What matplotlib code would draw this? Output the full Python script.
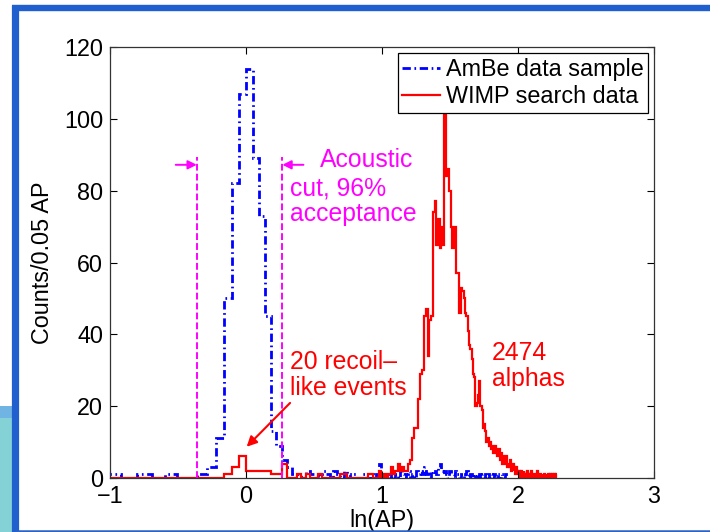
import numpy as np
import matplotlib
matplotlib.use("Agg")
import matplotlib.pyplot as plt
from matplotlib.lines import Line2D
from matplotlib.patches import Rectangle

plt.rcParams['font.family'] = ['Liberation Sans', 'DejaVu Sans']

# counts per 0.05 AP bin, first bin starts at AP = 0.35
ap_start = 0.35
ap_step = 0.05

ambe_counts = [
    1, 0, 1, 0, 1, 0, 0, 1, 3, 11,                                   # 0.35 - 0.80
    50, 82, 107, 114, 89, 73, 45, 13, 9, 5, 3, 1,                    # 0.85 - 1.40
    1, 0, 2, 1, 0, 1, 2, 1, 0, 2, 1, 0, 2, 1, 0, 1, 0, 0, 1, 0,      # 1.45 - 2.40
    0, 1, 0, 1, 4, 1, 0, 1, 0, 2, 0, 1, 0, 2, 1, 0, 1, 2, 0, 1,      # 2.45 - 3.40
    0, 2, 1, 2, 1, 3, 1, 2, 0, 2, 1, 2, 1, 3, 4, 2, 1, 2, 1, 0,      # 3.45 - 4.40
    2, 1, 1, 0, 2, 1, 1, 0, 1, 1, 0, 1, 2, 1, 0, 1, 0, 1, 1, 0,      # 4.45 - 5.40
    1, 0, 1, 0, 1, 0, 0, 1, 0, 1, 0, 0, 1, 0, 0, 1, 0, 0, 1, 0,      # 5.45 - 6.40
    0, 1, 0, 0, 0, 1, 0,                                             # 6.45 - 6.75
]

wimp_counts = [
    0, 0, 0, 0, 0, 0, 0, 0, 0, 0,                                    # 0.35 - 0.80
    1, 3, 6, 2, 2, 2, 2, 1, 1, 4,                                    # 0.85 - 1.30
    0, 0, 1, 0, 1, 0, 0, 1, 0, 0, 0, 0, 0, 1, 1, 0,                  # 1.35 - 2.10
    0, 0, 0, 0, 0, 0, 1, 1, 0, 0, 2, 0, 1, 0, 1,                     # 2.15 - 2.85
    3, 1, 2, 4, 2, 3, 2, 2, 4,                                       # 2.90 - 3.30
    5, 11, 14, 14, 22, 29, 30, 45, 47, 34, 44, 45,                   # 3.35 - 3.90
    74, 77, 65, 72, 64, 70, 65, 102, 84, 86, 80,                     # 3.95 - 4.45
    70, 64, 70, 70, 57, 57, 46, 53, 52, 50,                          # 4.50 - 4.95
    46, 45, 41, 37, 36, 33, 29, 28, 20, 21,                          # 5.00 - 5.45
    23, 27, 20, 19, 14, 15, 13, 10, 11, 9,                           # 5.50 - 5.95
    10, 8, 9, 7, 8, 9, 7, 6, 8, 5, 7, 4, 6, 5, 4, 6, 3, 4, 3, 5,     # 6.00 - 6.95
    2, 3, 4, 2, 3, 1, 3, 2, 1, 2, 0, 2, 1, 0, 2, 1, 0, 1, 2, 0,      # 7.00 - 7.95
    1, 0, 1, 2, 0, 1, 0, 1, 0, 1, 2, 0, 1, 0, 1, 0, 0, 1, 0, 1,      # 8.00 - 8.95
    0, 1, 0, 0, 1, 0, 0, 1, 0, 0, 1, 0, 0, 1, 0, 0, 1,               # 9.00 - 9.80
]

cut_ap = [0.70, 1.30]
cut_top = 89.5
n_recoil = 20
n_alpha = 2474


def ln_edges(counts):
    return np.log(ap_start + ap_step * np.arange(len(counts) + 1))


fig = plt.figure(figsize=(7.1, 5.32), dpi=100)
fig.patch.set_facecolor('white')

# slide frame around the plot
fig.add_artist(Rectangle((0, 0), 12 / 710, 120 / 532, transform=fig.transFigure,
                         facecolor='#84d2d6', edgecolor='none'))
fig.add_artist(Rectangle((0, 114 / 532), 12 / 710, 12 / 532, transform=fig.transFigure,
                         facecolor='#6fb4e2', edgecolor='none'))
fig.add_artist(Line2D([15.5 / 710, 15.5 / 710], [0, 1 - 5 / 532], transform=fig.transFigure,
                      color='#1f5fce', lw=5.2, solid_capstyle='butt'))
fig.add_artist(Line2D([12 / 710, 1], [1 - 8 / 532, 1 - 8 / 532], transform=fig.transFigure,
                      color='#1f5fce', lw=4.6, solid_capstyle='butt'))
fig.add_artist(Line2D([15 / 710, 1], [1.2 / 532, 1.2 / 532], transform=fig.transFigure,
                      color='#2a63c4', lw=1.8, solid_capstyle='butt'))

ax = fig.add_axes([110 / 710, 1 - 478 / 532, 544 / 710, 431 / 532])

ax.stairs(ambe_counts, ln_edges(ambe_counts), baseline=None, color=(0, 0, 1), lw=2.0,
          linestyle=(0, (3.0, 1.3, 0.6, 1.3)), label='AmBe data sample')
ax.stairs(wimp_counts, ln_edges(wimp_counts), baseline=None, color=(1, 0, 0), lw=1.6,
          label='WIMP search data')

# acoustic cut
magenta = (1, 0, 1)
for ap in cut_ap:
    ax.plot([np.log(ap), np.log(ap)], [0, cut_top], color=magenta, lw=1.4,
            linestyle=(0, (3.5, 1.6)))
ax.annotate('', xy=(np.log(cut_ap[0]) - 0.005, 87.2), xytext=(np.log(cut_ap[0]) - 0.16, 87.2),
            arrowprops=dict(arrowstyle='-|>', color=magenta, lw=1.4, mutation_scale=13,
                            shrinkA=0, shrinkB=0))
ax.annotate('', xy=(np.log(cut_ap[1]) + 0.005, 87.2), xytext=(np.log(cut_ap[1]) + 0.16, 87.2),
            arrowprops=dict(arrowstyle='-|>', color=magenta, lw=1.4, mutation_scale=13,
                            shrinkA=0, shrinkB=0))
ax.text(0.544, 88.6, 'Acoustic', color=magenta, fontsize=17.8, va='center', ha='left')
ax.text(0.324, 77.0, 'cut, 96%\nacceptance', color=magenta, fontsize=17.8, va='center',
        ha='left', linespacing=1.1)

# recoil-like events and alphas
ax.annotate('', xy=(0.005, 8.7), xytext=(0.324, 20.9),
            arrowprops=dict(arrowstyle='-|>', color=(1, 0, 0), lw=1.5, mutation_scale=15,
                            shrinkA=0, shrinkB=0))
ax.text(0.324, 28.6, f'{n_recoil} recoil\u2013\nlike events', color=(1, 0, 0), fontsize=17.8,
        va='center', ha='left', linespacing=1.1)
ax.text(1.809, 31.2, f'{n_alpha}\nalphas', color=(1, 0, 0), fontsize=17.8,
        va='center', ha='left', linespacing=1.1)

ax.set_xlim(-1, 3)
ax.set_ylim(0, 120)
ax.set_xticks([-1, 0, 1, 2, 3])
ax.set_yticks(np.arange(0, 121, 20))
ax.tick_params(direction='in', top=True, right=True, length=5, width=0.8,
               labelsize=16.8, pad=5)
for s in ax.spines.values():
    s.set_linewidth(0.9)
    s.set_color('#333333')
ax.set_xlabel('ln(AP)', fontsize=16.8, labelpad=1)
ax.set_ylabel('Counts/0.05 AP', fontsize=16.8, labelpad=7)

leg = ax.legend(loc='upper right', fontsize=16.8, fancybox=False, framealpha=1,
                edgecolor='black', borderaxespad=0.26, borderpad=0.2,
                labelspacing=0.2, handlelength=1.6, handletextpad=0.25)
leg.get_frame().set_linewidth(0.9)

fig.savefig('out.png', dpi=100)
plt.close(fig)
